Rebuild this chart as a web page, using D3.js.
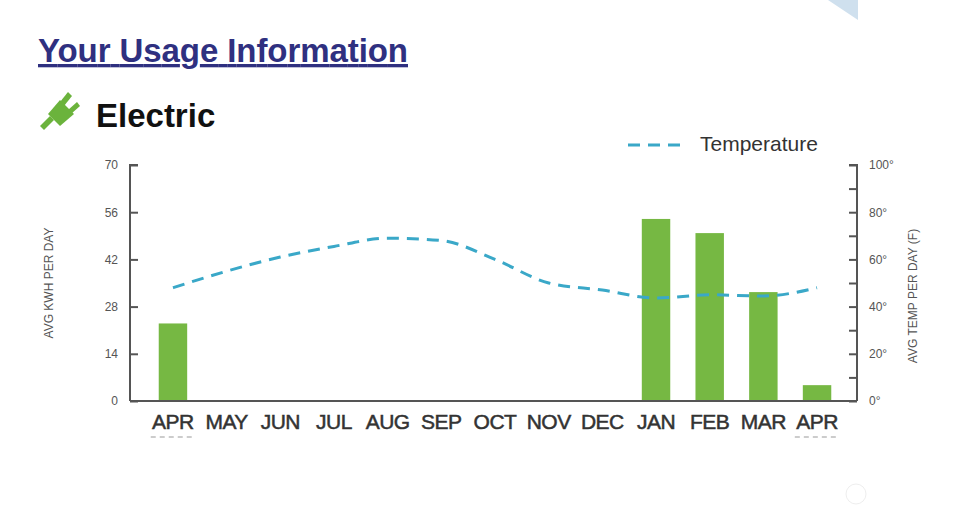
<!DOCTYPE html><html><head><meta charset="utf-8"><script src="https://cdn.jsdelivr.net/npm/d3@7"></script>
<style>body{margin:0;background:#fff}text{font-family:"Liberation Sans",Arial,sans-serif}</style></head><body><svg id="c" width="970" height="520"></svg>
<script>
const months=["APR","MAY","JUN","JUL","AUG","SEP","OCT","NOV","DEC","JAN","FEB","MAR","APR "];
const kwh=[23,0,0,0,0,0,0,0,0,54,49.8,32.3,4.7];
const temp=[48,55,61,65.5,69,68,60,50,47,43.6,45,44.5,48];
const kwhTicks=[0,14,28,42,56,70];
const tempTicks=[0,20,40,60,80,100];
const svg=d3.select("#c");
svg.append("path").attr("d","M828,0L858,0L858,20Z").attr("fill","#cfe0ee");
svg.append("circle").attr("cx",856).attr("cy",494).attr("r",10).attr("fill","none").attr("stroke","#eee");
svg.append("text").attr("x",38).attr("y",62).attr("font-size",33).attr("font-weight","bold").attr("fill","#2f3080").attr("text-decoration","underline").attr("textLength",370).text("Your Usage Information");
const g=svg.append("g").attr("fill","#6bb33c");
g.append("path").attr("d","M40,126 L50,116 L54,120 L44,130 Z");
g.append("path").attr("d","M48,114 L60,100 L74,114 L60,126 Z");
g.append("path").attr("d","M60,102 L68,92 L72,96 L64,106 Z");
g.append("path").attr("d","M68,110 L77,102 L80,106 L71,114 Z");
svg.append("text").attr("x",96).attr("y",127).attr("font-size",33).attr("font-weight","bold").attr("fill","#111").text("Electric");
const x=d3.scaleBand().domain(months).range([148,842]).paddingInner(0.47).paddingOuter(0.2);
const yL=d3.scaleLinear().domain([0,70]).range([401,165]);
const yR=d3.scaleLinear().domain([0,100]).range([401,165]);
svg.selectAll(".bar").data(kwh).join("rect").attr("x",(d,i)=>x(months[i])).attr("width",x.bandwidth()).attr("y",d=>yL(d)).attr("height",d=>401-yL(d)).attr("fill","#76b843");
const la=svg.append("g").attr("transform","translate(130,0)").call(d3.axisLeft(yL).tickValues(kwhTicks).tickSize(8).tickPadding(4));
la.selectAll("line").attr("transform","translate(8,0)");
const ra=svg.append("g").attr("transform","translate(857,0)").call(d3.axisRight(yR).tickValues(d3.range(0,101,10)).tickSize(8).tickPadding(4).tickFormat(d=>tempTicks.includes(d)?d+"°":""));
ra.selectAll("line").attr("transform","translate(-8,0)");
[la,ra].forEach(a=>{a.select(".domain").attr("stroke","#555").attr("stroke-width",2);a.selectAll("line").attr("stroke","#555").attr("stroke-width",2);a.selectAll("text").attr("font-size",12).attr("fill","#555");});
la.select(".domain").attr("d","M8,165H0V401");
ra.select(".domain").attr("d","M-8,165H0V401");
svg.append("line").attr("x1",130).attr("x2",857).attr("y1",401).attr("y2",401).attr("stroke","#555").attr("stroke-width",2);
svg.selectAll(".ml").data(months).join("text").attr("x",d=>x(d)+x.bandwidth()/2).attr("y",429).attr("text-anchor","middle").attr("font-size",21).attr("fill","#333").attr("stroke","#333").attr("stroke-width",0.5).attr("letter-spacing",-0.5).text(d=>d.trim());
[months[0],months[12]].forEach(m=>svg.append("line").attr("x1",x(m)-8).attr("x2",x(m)+x.bandwidth()+8).attr("y1",437).attr("y2",437).attr("stroke","#999").attr("stroke-dasharray","5,4"));
const line=d3.line().x((d,i)=>x(months[i])+x.bandwidth()/2).y(d=>yR(d)).curve(d3.curveMonotoneX);
svg.append("path").datum(temp).attr("d",line).attr("fill","none").attr("stroke","#3aa8c8").attr("stroke-width",3).attr("stroke-dasharray","12,8");
svg.append("line").attr("x1",628).attr("x2",682).attr("y1",145).attr("y2",145).attr("stroke","#3aa8c8").attr("stroke-width",3).attr("stroke-dasharray","12,8");
svg.append("text").attr("x",700).attr("y",151).attr("font-size",21).attr("fill","#333").text("Temperature");
svg.append("text").attr("transform","translate(53,283)rotate(-90)").attr("text-anchor","middle").attr("font-size",12).attr("fill","#555").text("AVG KWH PER DAY");
svg.append("text").attr("transform","translate(917,296)rotate(-90)").attr("text-anchor","middle").attr("font-size",12).attr("fill","#555").text("AVG TEMP PER DAY (F)");
</script></body></html>
